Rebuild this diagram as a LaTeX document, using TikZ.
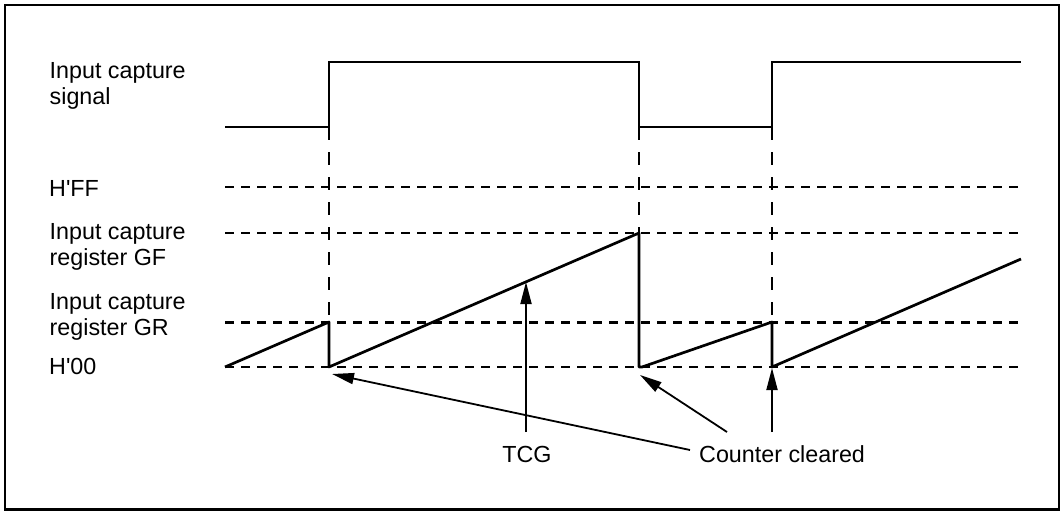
\documentclass[tikz,border=0pt]{standalone}
\usepackage{fontspec}
\setmainfont{Liberation Sans}
\usetikzlibrary{arrows.meta}
\begin{document}
\begin{tikzpicture}[x=1pt,y=-1pt,
  sig/.style={line width=2.3pt, line join=miter},
  ramp/.style={line width=2.7pt, line join=round},
  level/.style={line width=2.4pt, dash pattern=on 8.5pt off 7.5pt},
  vdash/.style={line width=2.3pt, dash pattern=on 13pt off 12pt},
  arr/.style={line width=1.8pt, -{Triangle[length=22pt,width=11pt]}},
  txt/.style={font=\fontsize{23.3}{26}\selectfont, inner sep=0pt},
  lbl/.style={txt, align=left, anchor=north west},
]
\useasboundingbox (0,0) rectangle (1063,511);
\draw[line width=2.2pt] (5,5) rectangle (1059,509.5);

% labels
\node[lbl] (lsig) at (49.5,62) {Input capture\\signal};
\node[lbl] (lff) at (49,180) {H\textquotesingle FF};
\node[lbl] (lgf) at (49.5,223.3) {Input capture\\register GF};
\node[lbl] (lgr) at (49.5,293.3) {Input capture\\register GR};
\node[lbl] (l00) at (49,358.3) {H\textquotesingle 00};

% signal
\draw[sig] (225,127) -- (329,127) -- (329,62) -- (639,62) -- (639,127)
  -- (772,127) -- (772,62) -- (1021,62);

% levels
\draw[level] (225,187) -- (1019,187);
\draw[level] (225,233) -- (1019,233);
\draw[level] (225,322.5) -- (1019,322.5);
\draw[level] (225,367) -- (1019,367);

% vertical guides
\draw[vdash] (329,127) -- (329,322);
\draw[vdash] (639,127) -- (639,233);
\draw[vdash] (772,127) -- (772,322);

% counter
\draw[ramp] (225,367) -- (329,322) -- (329,367) -- (639,233) -- (639,367)
  -- (642,367) -- (772,322) -- (772,367) -- (1021,259);

% annotations
\node[txt, anchor=base] (tcg) at (527,462.7) {TCG};
\node[txt, anchor=base west] (cc) at (699,462.7) {Counter cleared};

\coordinate (tcgtail) at (526,432);
\coordinate (tcgtip) at (526,282);
\coordinate (cc1tail) at (690,450);
\coordinate (cc1tip) at (332,374);
\coordinate (cc2tail) at (727,432);
\coordinate (cc2tip) at (640,375);
\coordinate (cc3tail) at (772,432);
\coordinate (cc3tip) at (772,368);

\draw[arr] (tcgtail) -- (tcgtip);
\draw[arr] (cc1tail) -- (cc1tip);
\draw[arr] (cc2tail) -- (cc2tip);
\draw[arr] (cc3tail) -- (cc3tip);
\end{tikzpicture}
\end{document}
